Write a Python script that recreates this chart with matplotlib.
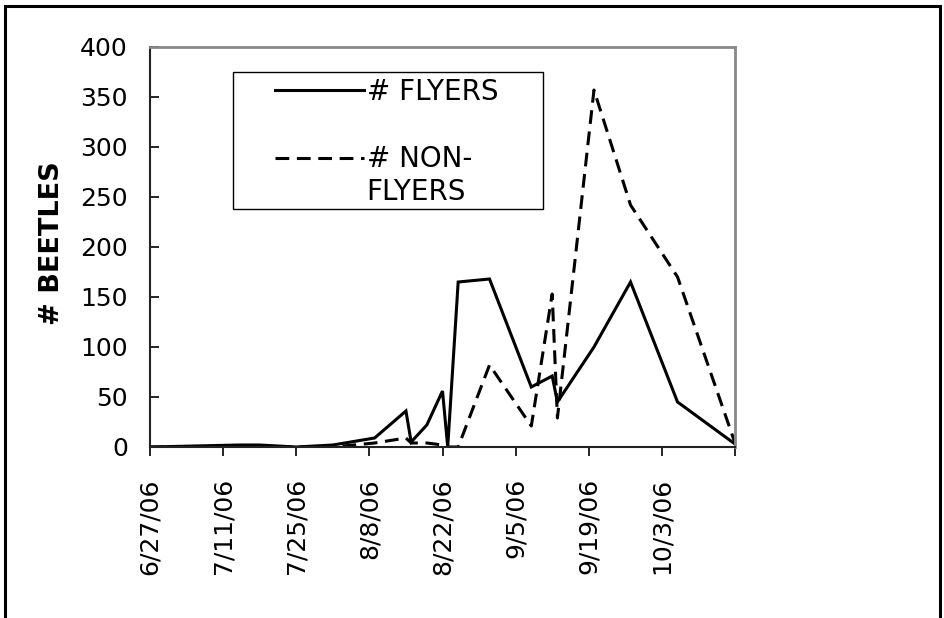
import numpy as np
import pandas as pd
import matplotlib
matplotlib.use("Agg")
import matplotlib.pyplot as plt
from matplotlib.patches import Rectangle
from matplotlib.legend_handler import HandlerLine2D

# sampling dates and trap counts
dates = pd.to_datetime([
    "2006-06-27", "2006-07-14", "2006-07-18", "2006-07-25", "2006-08-01",
    "2006-08-09", "2006-08-15", "2006-08-16", "2006-08-19", "2006-08-22",
    "2006-08-23", "2006-08-25", "2006-08-31", "2006-09-08", "2006-09-12",
    "2006-09-13", "2006-09-20", "2006-09-27", "2006-10-06", "2006-10-17",
])
flyers = [0, 2, 2, 0, 2, 9, 36, 5, 22, 56, 0, 165, 168, 60, 71, 45, 100, 165, 45, 3]
non_flyers = [0, 0, 0, 0, 0, 4, 9, 4, 4, 2, 0, 0, 82, 21, 153, 29, 357, 242, 170, 4]

tick_dates = pd.date_range("2006-06-27", "2006-10-17", freq="14D")
tick_labels = ["6/27/06", "7/11/06", "7/25/06", "8/8/06", "8/22/06",
               "9/5/06", "9/19/06", "10/3/06", ""]
y_ticks = np.arange(0, 401, 50)


class FirstLineHandler(HandlerLine2D):
    """Legend line lifted to sit beside the first line of a two-line label."""

    def __init__(self, lift=0.0, **kw):
        super().__init__(**kw)
        self.lift = lift

    def create_artists(self, legend, orig_handle, xdescent, ydescent,
                       width, height, fontsize, trans):
        arts = super().create_artists(legend, orig_handle, xdescent, ydescent,
                                      width, height, fontsize, trans)
        for a in arts:
            a.set_ydata(np.asarray(a.get_ydata()) + self.lift * fontsize)
        return arts


plt.rcParams["font.family"] = "DejaVu Sans"

fig = plt.figure(figsize=(9.45, 6.18), dpi=100)
ax = fig.add_axes([150 / 945, 1 - 447 / 618, 585 / 945, 400 / 618])

l1, = ax.plot(dates, flyers, color="black", lw=2.2, solid_joinstyle="miter",
              label="# FLYERS")
l2, = ax.plot(dates, non_flyers, color="black", lw=2.2, ls=(0, (4.5, 2.5)),
              label="# NON-\nFLYERS")

ax.set_xlim(tick_dates[0], tick_dates[-1])
ax.set_ylim(0, 400)
ax.set_yticks(y_ticks)
ax.set_xticks(tick_dates)
ax.set_xticklabels(tick_labels, rotation=90, ha="center", va="top")

ax.tick_params(axis="y", direction="in", length=6.5, width=1.2, labelsize=18, pad=16)
ax.tick_params(axis="x", direction="out", length=6.5, width=1.2, labelsize=18, pad=16)

for side in ("left", "bottom"):
    ax.spines[side].set_color("#222222")
    ax.spines[side].set_linewidth(1.5)
for side in ("top", "right"):
    ax.spines[side].set_color("#888888")
    ax.spines[side].set_linewidth(2)

fig.text(52 / 945, 1 - 243 / 618, "# BEETLES", rotation=90, ha="center",
         va="center", fontsize=19.5, fontweight="bold")

# legend box drawn separately so the padding can differ per side
ax.add_patch(Rectangle((83 / 585, 238 / 400), 310 / 585, 137 / 400,
                       transform=ax.transAxes, fill=False, ec="black", lw=1))
leg = ax.legend(handles=[l1, l2], loc="upper left",
                bbox_to_anchor=(125 / 585, 1 - 31 / 400), frameon=False,
                fontsize=20, handlelength=3.2, handletextpad=0.1,
                labelspacing=1.41, borderpad=0, borderaxespad=0,
                handler_map={l2: FirstLineHandler(lift=0.68)})
for t in leg.get_texts():
    t.set_linespacing(1.22)

# outer chart frame
fig.add_artist(Rectangle((5.5 / 945, -0.2), 934.5 / 945, 1.2 - 5.5 / 618,
                         transform=fig.transFigure, fill=False, ec="black",
                         lw=2.2, clip_on=False))

fig.savefig("out.png", dpi=100)
